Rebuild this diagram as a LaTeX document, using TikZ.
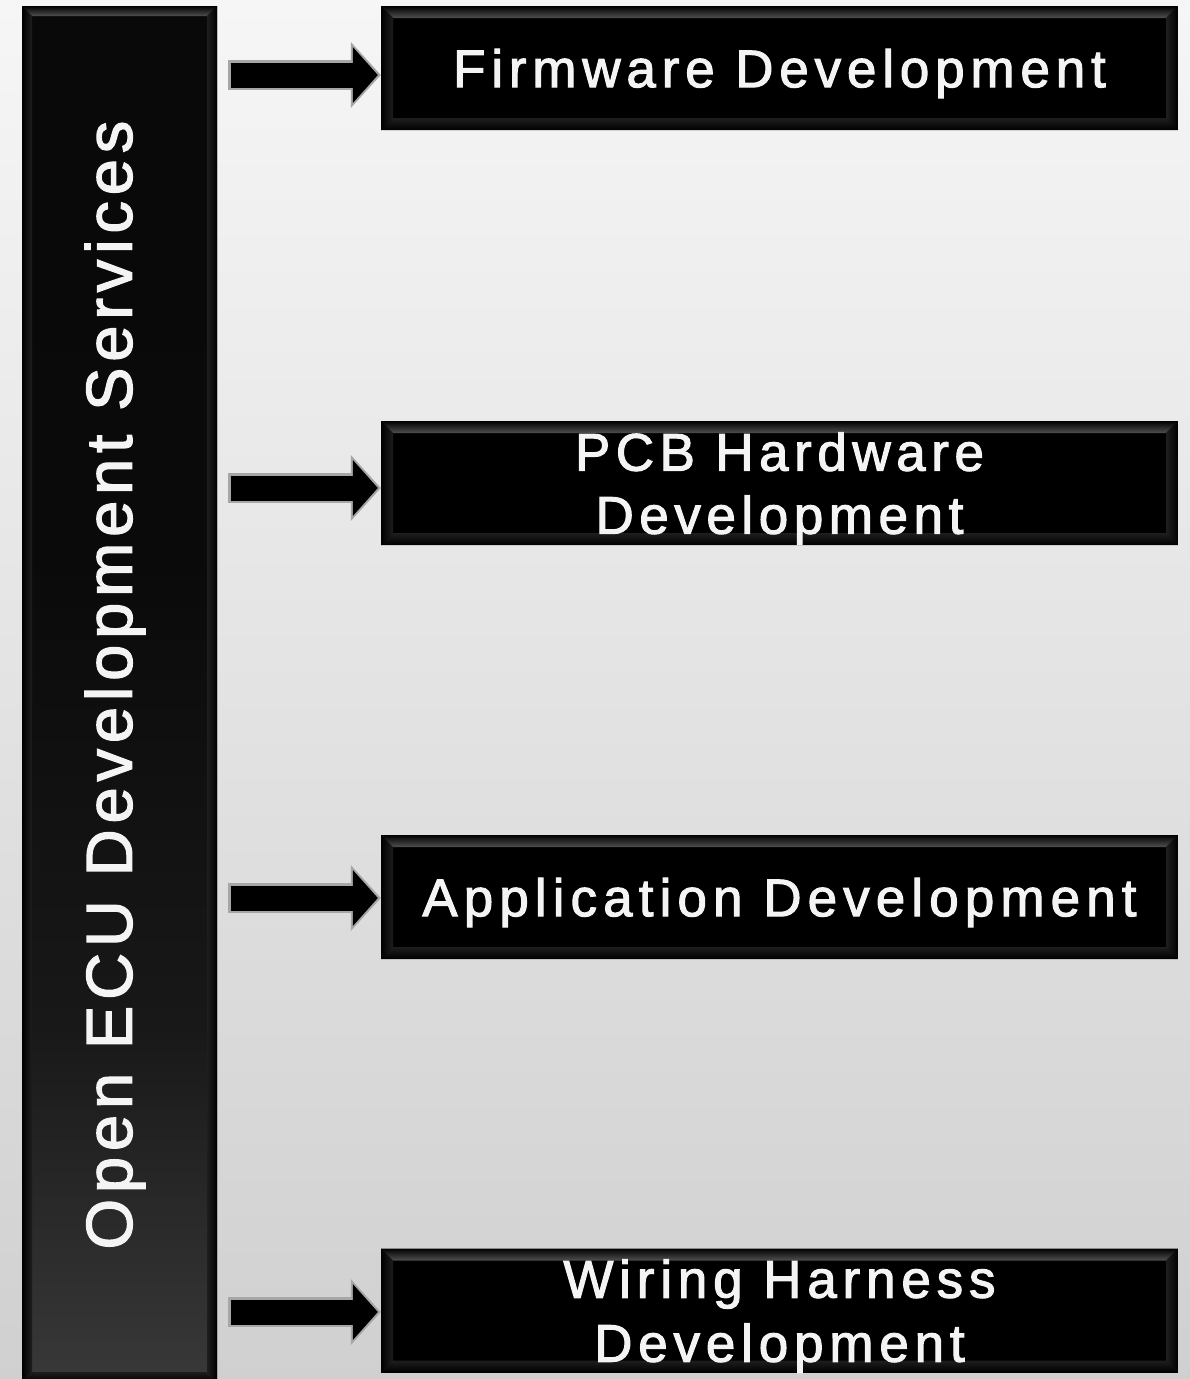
\documentclass[tikz,border=0pt]{standalone}
\usepackage{fontspec}
\usepackage{graphicx}
\setmainfont{Liberation Sans}
\usetikzlibrary{arrows.meta}
\definecolor{bvlhi}{HTML}{505050}
\definecolor{bvlmid}{HTML}{1E1E1E}
\definecolor{arrgray}{HTML}{A6A6A6}
\definecolor{bgtop}{HTML}{F6F6F6}
\definecolor{bgbot}{HTML}{D0D0D0}
\definecolor{txt}{HTML}{F4F4F4}
\definecolor{bsA}{HTML}{000000}
\definecolor{bsB}{HTML}{121212}
\definecolor{bsC}{HTML}{2E2E2E}
\definecolor{bsD}{HTML}{4E4E4E}
\definecolor{bsE}{HTML}{363636}
\definecolor{bsF}{HTML}{181818}
\definecolor{bsG}{HTML}{0A0A0A}
\definecolor{bsH}{HTML}{070707}
\pgfdeclareverticalshading{barshade}{100bp}{color(0bp)=(bsA); color(3bp)=(bsB); color(8bp)=(bsC); color(17bp)=(bsD); color(26bp)=(bsE); color(38bp)=(bsF); color(55bp)=(bsG); color(100bp)=(bsH)}
\tikzset{
  bevel/.style={path picture={
    \path (path picture bounding box.north west) coordinate (pNW)
          (path picture bounding box.north east) coordinate (pNE)
          (path picture bounding box.south west) coordinate (pSW)
          (path picture bounding box.south east) coordinate (pSE);
    \shade[top color=black, bottom color=bvlhi] (pNW) -- (pNE) -- ([shift={(-#1,-#1)}]pNE) -- ([shift={(#1,-#1)}]pNW) -- cycle;
    \shade[top color=bvlmid, bottom color=black] (pSW) -- (pSE) -- ([shift={(-#1,#1)}]pSE) -- ([shift={(#1,#1)}]pSW) -- cycle;
    \shade[left color=black, right color=bvlmid] (pNW) -- (pSW) -- ([shift={(#1,#1)}]pSW) -- ([shift={(#1,-#1)}]pNW) -- cycle;
    \shade[left color=bvlmid, right color=black] (pNE) -- (pSE) -- ([shift={(-#1,#1)}]pSE) -- ([shift={(-#1,-#1)}]pNE) -- cycle;
  }},
  box/.style={fill=black, bevel=12pt, minimum width=797pt, minimum height=124pt,
    inner sep=0pt, text=txt, align=center, text depth=0pt},
  barst/.style={shade, shading=barshade, bevel=10pt, minimum width=195pt,
    minimum height=1376pt, inner sep=0pt, text=txt},
  arrout/.style={draw=arrgray, line width=30pt, shorten <=11pt,
    -{Triangle[length=30pt, width=66pt, line width=0pt]}},
  arrin/.style={draw=black, line width=25pt, shorten <=13.5pt, shorten >=3pt,
    -{Triangle[length=25pt, width=56pt, line width=0pt]}},
}
\newcommand{\lsfont}[3]{\fontsize{#1}{#3}\selectfont\addfontfeatures{LetterSpace=#2,FakeBold=2}}
\begin{document}
\begin{tikzpicture}[x=1pt,y=1pt]
  \useasboundingbox (0,0) rectangle (1190,-1379);
  \shade[top color=bgtop, bottom color=bgbot] (0,0) rectangle (1190,-1379);

  \node[barst] (bar) at (119.5,-694)
    {\rotatebox{90}{\lsfont{65}{9}{70}\hspace*{18pt}Open ECU Development Services}\hspace*{9pt}};

  \node[box, font=\lsfont{53}{11}{63}] (b1) at (779.5,-68) {Firmware Development};
  \node[box, font=\lsfont{53}{10.5}{63}] (b2) at (779.5,-483) {PCB Hardware\\Development};
  \node[box, font=\lsfont{53}{11.5}{63}] (b3) at (779.5,-897) {Application Development};
  \node[box, font=\lsfont{53}{11}{64}] (b4) at (779.5,-1310.5) {Wiring Harness\\Development};

  \coordinate (t1) at ([yshift=-7pt]b1.west);
  \coordinate (t2) at ([yshift=-5pt]b2.west);
  \coordinate (t3) at ([yshift=-1pt]b3.west);
  \coordinate (t4) at ([yshift=-1.5pt]b4.west);
  \foreach \t in {t1,t2,t3,t4}{
    \draw[arrout] (bar.east |- \t) -- (\t);
    \draw[arrin] (bar.east |- \t) -- (\t);
  }
\end{tikzpicture}
\end{document}
